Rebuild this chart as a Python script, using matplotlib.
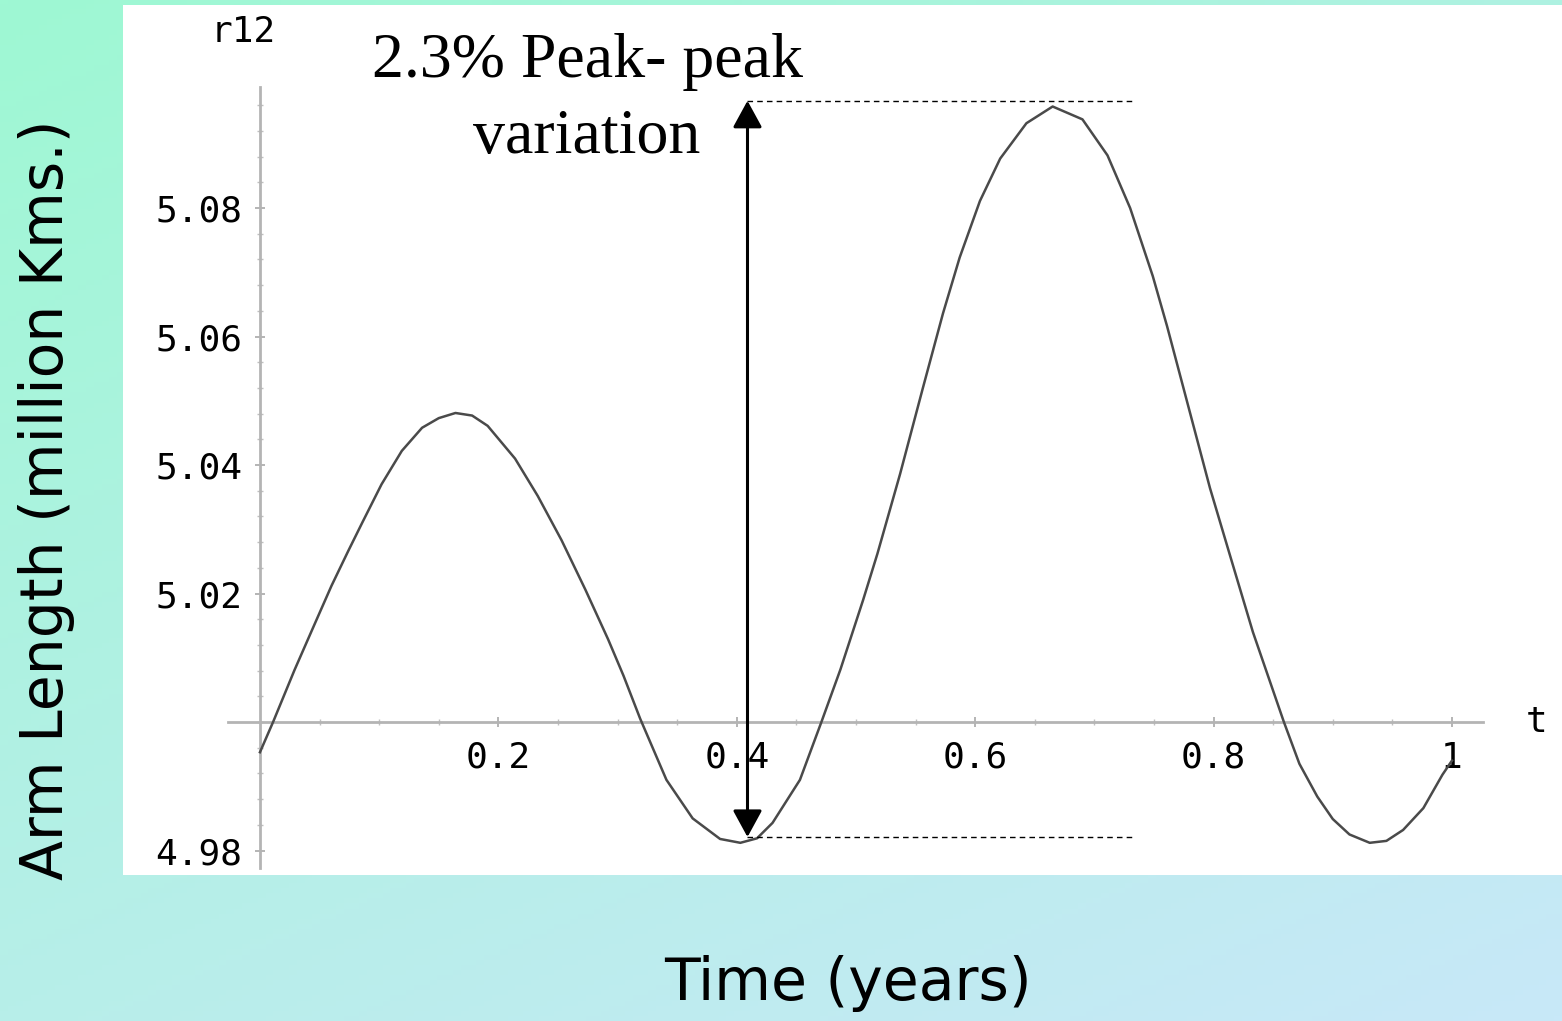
import numpy as np
import matplotlib
matplotlib.use("Agg")
import matplotlib.pyplot as plt
from matplotlib.ticker import FixedLocator, NullFormatter

# ---------------- data ----------------
t_years = [0.000, 0.011, 0.029, 0.046, 0.060, 0.074, 0.086, 0.102, 0.119, 0.136,
           0.150, 0.164, 0.178, 0.191, 0.214, 0.233, 0.253, 0.273, 0.292, 0.305,
           0.319, 0.341, 0.363, 0.386, 0.403, 0.417, 0.430, 0.453, 0.471, 0.487,
           0.506, 0.518, 0.537, 0.556, 0.573, 0.587, 0.604, 0.621, 0.643, 0.665,
           0.690, 0.711, 0.730, 0.749, 0.761, 0.778, 0.797, 0.814, 0.833, 0.859,
           0.872, 0.887, 0.900, 0.914, 0.931, 0.945, 0.959, 0.976, 0.992, 1.000]
arm_length = [4.9953, 5.0000, 5.0081, 5.0153, 5.0212, 5.0266, 5.0311, 5.0370, 5.0422, 5.0458,
              5.0473, 5.0481, 5.0477, 5.0461, 5.0410, 5.0352, 5.0283, 5.0206, 5.0129, 5.0072,
              5.0005, 4.9910, 4.9850, 4.9818, 4.9812, 4.9819, 4.9843, 4.9910, 5.0000, 5.0082,
              5.0190, 5.0262, 5.0386, 5.0519, 5.0636, 5.0723, 5.0811, 5.0877, 5.0932, 5.0958,
              5.0938, 5.0882, 5.0800, 5.0694, 5.0616, 5.0497, 5.0364, 5.0258, 5.0140, 5.0000,
              4.9935, 4.9884, 4.9849, 4.9825, 4.9812, 4.9815, 4.9832, 4.9866, 4.9918, 4.9940]

x_ticks = [0.2, 0.4, 0.6, 0.8, 1.0]
x_tick_labels = ["0.2", "0.4", "0.6", "0.8", "1"]
y_ticks = [4.98, 5.02, 5.04, 5.06, 5.08]
y_tick_labels = ["4.98", "5.02", "5.04", "5.06", "5.08"]

variation_top = 5.0967
variation_bottom = 4.9821
arrow_t = 0.409
dash_end_t = 0.732

annotation_text = "2.3% Peak- peak\nvariation"
x_label = "Time (years)"
y_label = "Arm Length (million Kms.)"

# ---------------- figure ----------------
W, H = 1562, 1021
fig = plt.figure(figsize=(W / 100, H / 100), dpi=100)

# gradient background
bg = fig.add_axes([0, 0, 1, 1], zorder=-10)
xx, yy = np.meshgrid(np.linspace(0, 1, 200), np.linspace(0, 1, 200))
u = 0.4 * xx + 0.6 * yy
c0 = np.array([0x9e, 0xf8, 0xd3]) / 255.0
c1 = np.array([0xc8, 0xe8, 0xf8]) / 255.0
img = c0[None, None, :] + (c1 - c0)[None, None, :] * u[:, :, None]
bg.imshow(img, extent=[0, 1, 0, 1], origin="upper", aspect="auto")
bg.axis("off")

# plot area (white panel)
left, right, top, bottom = 123, 1562, 5, 875
ax = fig.add_axes([left / W, 1 - bottom / H, (right - left) / W, (bottom - top) / H])
ax.set_facecolor("white")
ax.set_xlim(-0.1149, 1.0923)
ax.set_ylim(4.97619, 5.1116)

axis_gray = "#b4b4b4"
for s in ["top", "right"]:
    ax.spines[s].set_visible(False)
ax.spines["left"].set_position(("data", 0.0))
ax.spines["bottom"].set_position(("data", 5.0))
ax.spines["left"].set_bounds(4.9773, 5.0988)
ax.spines["bottom"].set_bounds(-0.027, 1.026)
for s in ["left", "bottom"]:
    ax.spines[s].set_color(axis_gray)
    ax.spines[s].set_linewidth(2.0)

ax.xaxis.set_major_locator(FixedLocator(x_ticks))
ax.set_xticklabels(x_tick_labels)
ax.yaxis.set_major_locator(FixedLocator(y_ticks))
ax.set_yticklabels(y_tick_labels)
x_minor = [m for m in np.round(np.arange(0.05, 1.0001, 0.05), 3) if m not in x_ticks]
y_minor = [m for m in np.round(np.arange(4.98, 5.0965, 0.004), 3) if m not in y_ticks]
ax.xaxis.set_minor_locator(FixedLocator(x_minor))
ax.yaxis.set_minor_locator(FixedLocator(y_minor))
ax.xaxis.set_minor_formatter(NullFormatter())
ax.yaxis.set_minor_formatter(NullFormatter())

mono = "DejaVu Sans Mono"
ax.tick_params(axis="both", which="major", direction="inout", length=7, width=1.2,
               color="#a8a8a8", labelsize=26, labelcolor="black")
ax.tick_params(axis="both", which="minor", direction="inout", length=4, width=1.0,
               color="#c0c0c0")
ax.tick_params(axis="x", which="major", pad=10)
ax.tick_params(axis="y", which="major", pad=9)
for lab in ax.get_xticklabels() + ax.get_yticklabels():
    lab.set_fontfamily(mono)

# the curve
ax.plot(t_years, arm_length, color="#4a4a4a", lw=1.8, solid_joinstyle="round", zorder=3)

# peak-to-peak annotation
ax.plot([arrow_t, dash_end_t], [variation_top, variation_top], color="black",
        lw=1.0, ls=(0, (4, 3)), zorder=4)
ax.plot([arrow_t, dash_end_t], [variation_bottom, variation_bottom], color="black",
        lw=1.0, ls=(0, (4, 3)), zorder=4)
ax.annotate("", xy=(arrow_t, variation_top), xytext=(arrow_t, variation_bottom),
            arrowprops=dict(arrowstyle="<|-|>,head_length=0.55,head_width=0.3",
                            mutation_scale=30, lw=2.2, color="black",
                            shrinkA=0, shrinkB=0), zorder=5)

fig.text(587 / W, 1 - 100 / H, annotation_text, ha="center", va="center",
         family="Liberation Serif", fontsize=46, color="black", linespacing=1.4)

# axis names (Mathematica style)
fig.text(243 / W, 1 - 32 / H, "r12", ha="center", va="center",
         family=mono, fontsize=26, color="black")
fig.text(1537 / W, 1 - 722 / H, "t", ha="center", va="center",
         family=mono, fontsize=26, color="black")

# slide axis labels
fig.text(848 / W, 1 - 983 / H, x_label, ha="center", va="center",
         family="DejaVu Sans", fontsize=42, color="black")
fig.text(47 / W, 1 - 500 / H, y_label, ha="center", va="center", rotation=90,
         family="DejaVu Sans", fontsize=42, color="black")

fig.savefig("out.png", dpi=100)
